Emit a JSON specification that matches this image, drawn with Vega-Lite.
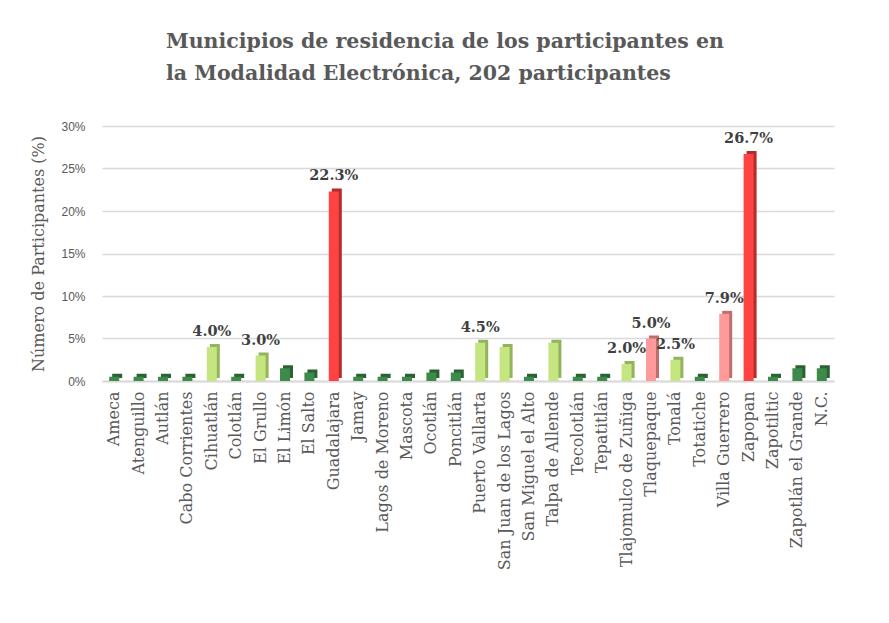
{
  "$schema": "https://vega.github.io/schema/vega-lite/v6.json",
  "width": 732,
  "height": 255,
  "padding": {"left": 30, "top": 31, "right": 20, "bottom": 10},
  "background": "white",
  "title": {
    "text": ["Municipios de residencia de los participantes en", "la Modalidad Electrónica, 202 participantes"],
    "anchor": "start",
    "frame": "group",
    "dx": 64,
    "font": "DejaVu Serif",
    "fontSize": 20.5,
    "fontWeight": "bold",
    "color": "#595959",
    "lineHeight": 32,
    "offset": 36
  },
  "data": {
    "values": [
      {"municipio": "Ameca", "porcentaje": 0.005},
      {"municipio": "Atenguillo", "porcentaje": 0.005},
      {"municipio": "Autlán", "porcentaje": 0.005},
      {"municipio": "Cabo Corrientes", "porcentaje": 0.005},
      {"municipio": "Cihuatlán", "porcentaje": 0.040},
      {"municipio": "Colotlán", "porcentaje": 0.005},
      {"municipio": "El Grullo", "porcentaje": 0.030},
      {"municipio": "El Limón", "porcentaje": 0.015},
      {"municipio": "El Salto", "porcentaje": 0.010},
      {"municipio": "Guadalajara", "porcentaje": 0.223},
      {"municipio": "Jamay", "porcentaje": 0.005},
      {"municipio": "Lagos de Moreno", "porcentaje": 0.005},
      {"municipio": "Mascota", "porcentaje": 0.005},
      {"municipio": "Ocotlán", "porcentaje": 0.010},
      {"municipio": "Poncitlán", "porcentaje": 0.010},
      {"municipio": "Puerto Vallarta", "porcentaje": 0.045},
      {"municipio": "San Juan de los Lagos", "porcentaje": 0.040},
      {"municipio": "San Miguel el Alto", "porcentaje": 0.005},
      {"municipio": "Talpa de Allende", "porcentaje": 0.045},
      {"municipio": "Tecolotlán", "porcentaje": 0.005},
      {"municipio": "Tepatitlán", "porcentaje": 0.005},
      {"municipio": "Tlajomulco de Zuñiga", "porcentaje": 0.020},
      {"municipio": "Tlaquepaque", "porcentaje": 0.050},
      {"municipio": "Tonalá", "porcentaje": 0.025},
      {"municipio": "Totatiche", "porcentaje": 0.005},
      {"municipio": "Villa Guerrero", "porcentaje": 0.079},
      {"municipio": "Zapopan", "porcentaje": 0.267},
      {"municipio": "Zapotiltic", "porcentaje": 0.005},
      {"municipio": "Zapotlán el Grande", "porcentaje": 0.015},
      {"municipio": "N.C.", "porcentaje": 0.015}
    ]
  },
  "encoding": {
    "x": {
      "field": "municipio",
      "type": "nominal",
      "sort": null,
      "title": null,
      "axis": {
        "labelAngle": -90,
        "labelFont": "DejaVu Serif",
        "labelFontSize": 16,
        "labelColor": "#595959",
        "labelPadding": 10,
        "ticks": false,
        "domainColor": "#d9d9d9",
        "domainWidth": 2,
        "labelLimit": 300
      }
    },
    "y": {
      "field": "porcentaje",
      "type": "quantitative",
      "scale": {"domain": [0, 0.3]},
      "title": "Número de Participantes (%)",
      "axis": {
        "format": "%",
        "values": [0, 0.05, 0.1, 0.15, 0.2, 0.25, 0.3],
        "labelFont": "Liberation Sans",
        "labelFontSize": 12,
        "labelColor": "#595959",
        "labelPadding": 17,
        "ticks": false,
        "domain": false,
        "grid": true,
        "gridColor": "#d9d9d9",
        "gridWidth": 1.5,
        "titleFont": "DejaVu Serif",
        "titleFontSize": 16,
        "titleFontWeight": "normal",
        "titleColor": "#595959",
        "titlePadding": 14
      }
    }
  },
  "layer": [
    {
      "mark": {"type": "bar", "width": 10, "xOffset": 3, "yOffset": -3},
      "encoding": {
        "color": {
          "field": "porcentaje",
          "type": "quantitative",
          "scale": {"type": "threshold", "domain": [0.018, 0.048, 0.2], "range": ["#2b6234", "#93b35c", "#bf6e6e", "#b52a2a"]},
          "legend": null
        }
      }
    },
    {
      "mark": {"type": "bar", "width": 10},
      "encoding": {
        "color": {
          "field": "porcentaje",
          "type": "quantitative",
          "scale": {"type": "threshold", "domain": [0.018, 0.048, 0.2], "range": ["#3e8a4a", "#c5e580", "#ff9a9a", "#ff4242"]},
          "legend": null
        }
      }
    },
    {
      "transform": [
        {"filter": {"field": "municipio", "oneOf": ["Cihuatlán", "El Grullo", "Guadalajara", "Puerto Vallarta", "Tlajomulco de Zuñiga", "Tlaquepaque", "Tonalá", "Villa Guerrero", "Zapopan"]}}
      ],
      "mark": {"type": "text", "baseline": "alphabetic", "dy": -11, "font": "DejaVu Serif", "fontSize": 14.5, "fontWeight": "bold", "color": "#404040"},
      "encoding": {
        "text": {"field": "porcentaje", "type": "quantitative", "format": ".1%"}
      }
    }
  ],
  "resolve": {"scale": {"color": "independent"}},
  "config": {"view": {"stroke": null}}
}
